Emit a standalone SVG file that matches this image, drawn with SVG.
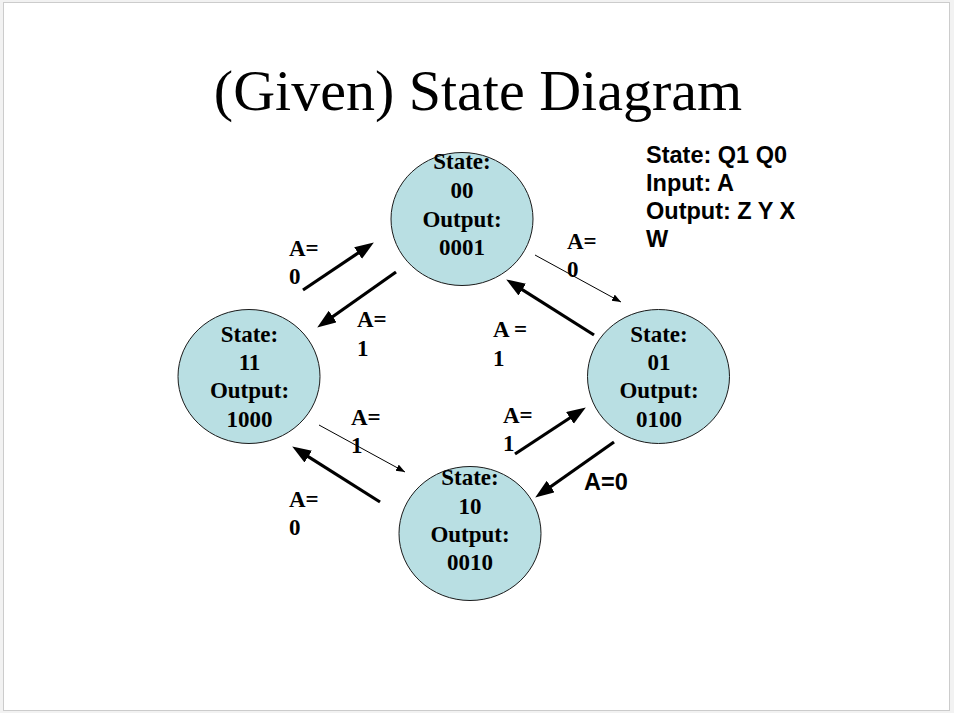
<svg xmlns="http://www.w3.org/2000/svg" width="954" height="713" viewBox="0 0 954 713">
  <style>
    .node ellipse { fill: #b9dfe3; stroke: #1a1a1a; stroke-width: 1; }
    .node text { font-family: "Liberation Serif", "Times New Roman", serif; font-weight: bold; font-size: 23px; fill: #000; text-anchor: middle; }
    .lbl { font-family: "Liberation Serif", "Times New Roman", serif; font-weight: bold; font-size: 23px; fill: #000; }
    .sans { font-family: "Liberation Sans", Arial, sans-serif; font-weight: bold; font-size: 23.5px; fill: #000; }
    .thick { stroke: #000; stroke-width: 3.2; fill: none; marker-end: url(#headBig); }
    .thin { stroke: #000; stroke-width: 1; fill: none; marker-end: url(#headSmall); }
  </style>
  <defs>
    <marker id="headBig" markerUnits="userSpaceOnUse" markerWidth="20" markerHeight="16" refX="8" refY="7" orient="auto">
      <path d="M0,0 L19,7 L0,14 z" fill="#000"/>
    </marker>
    <marker id="headSmall" markerUnits="userSpaceOnUse" markerWidth="11" markerHeight="8" refX="9" refY="3.5" orient="auto">
      <path d="M0,0 L9,3.5 L0,7 z" fill="#000"/>
    </marker>
  </defs>

  <rect x="0" y="0" width="954" height="713" fill="#f2f2f2"/>
  <rect x="3.5" y="2.5" width="946" height="708" fill="#ffffff" stroke="#cccccc" stroke-width="1"/>

  <text x="478" y="110" font-family="Liberation Serif, 'Times New Roman', serif" font-size="58" text-anchor="middle" fill="#000">(Given) State Diagram</text>

  <g id="legend">
    <text class="sans" x="646" y="163">State: Q1 Q0</text>
    <text class="sans" x="646" y="191">Input: A</text>
    <text class="sans" x="646" y="219">Output: Z Y X</text>
    <text class="sans" x="646" y="247">W</text>
  </g>

  <g id="connectors">
    <!-- 11 -> 00, A=0 -->
    <line class="thick" x1="303" y1="290" x2="364.7" y2="248.6"/>
    <!-- 00 -> 11, A=1 -->
    <line class="thick" x1="396" y1="272" x2="326.2" y2="321.2"/>
    <!-- 00 -> 01, A=0 (thin) -->
    <line class="thin" x1="535" y1="255" x2="621" y2="302"/>
    <!-- 01 -> 00, A=1 -->
    <line class="thick" x1="594" y1="335" x2="515.5" y2="285.3"/>
    <!-- 11 -> 10, A=1 (thin) -->
    <line class="thin" x1="319" y1="425" x2="405" y2="472"/>
    <!-- 10 -> 11, A=0 -->
    <line class="thick" x1="380" y1="502" x2="301.5" y2="452.3"/>
    <!-- 10 -> 01, A=1 -->
    <line class="thick" x1="515" y1="454" x2="576.6" y2="413.5"/>
    <!-- 01 -> 10, A=0 -->
    <line class="thick" x1="614" y1="442" x2="544.2" y2="491.2"/>

    <text class="lbl" x="289" y="256">A=</text>
    <text class="lbl" x="289" y="284">0</text>
    <text class="lbl" x="357" y="327">A=</text>
    <text class="lbl" x="357" y="356">1</text>
    <text class="lbl" x="567" y="249">A=</text>
    <text class="lbl" x="567" y="277">0</text>
    <text class="lbl" x="493" y="337">A =</text>
    <text class="lbl" x="493" y="366">1</text>
    <text class="lbl" x="351" y="425">A=</text>
    <text class="lbl" x="351" y="453">1</text>
    <text class="lbl" x="503" y="423">A=</text>
    <text class="lbl" x="503" y="451">1</text>
    <text class="lbl" x="289" y="507">A=</text>
    <text class="lbl" x="289" y="535">0</text>
    <text class="sans" x="584" y="490">A=0</text>
  </g>

  <g id="node00" class="node">
    <ellipse cx="462" cy="219" rx="71" ry="66.5"/>
    <text x="462" y="169">State:</text>
    <text x="462" y="198">00</text>
    <text x="462" y="227">Output:</text>
    <text x="462" y="255">0001</text>
  </g>

  <g id="node01" class="node">
    <ellipse cx="658.5" cy="376.5" rx="71" ry="67"/>
    <text x="659" y="342">State:</text>
    <text x="659" y="370">01</text>
    <text x="659" y="398">Output:</text>
    <text x="659" y="427">0100</text>
  </g>

  <g id="node11" class="node">
    <ellipse cx="249" cy="376.5" rx="71" ry="67"/>
    <text x="249.5" y="342">State:</text>
    <text x="249.5" y="370">11</text>
    <text x="249.5" y="398">Output:</text>
    <text x="249.5" y="427">1000</text>
  </g>

  <g id="node10" class="node">
    <ellipse cx="470" cy="533.5" rx="71" ry="67"/>
    <text x="470" y="485">State:</text>
    <text x="470" y="514">10</text>
    <text x="470" y="542">Output:</text>
    <text x="470" y="570">0010</text>
  </g>
</svg>
